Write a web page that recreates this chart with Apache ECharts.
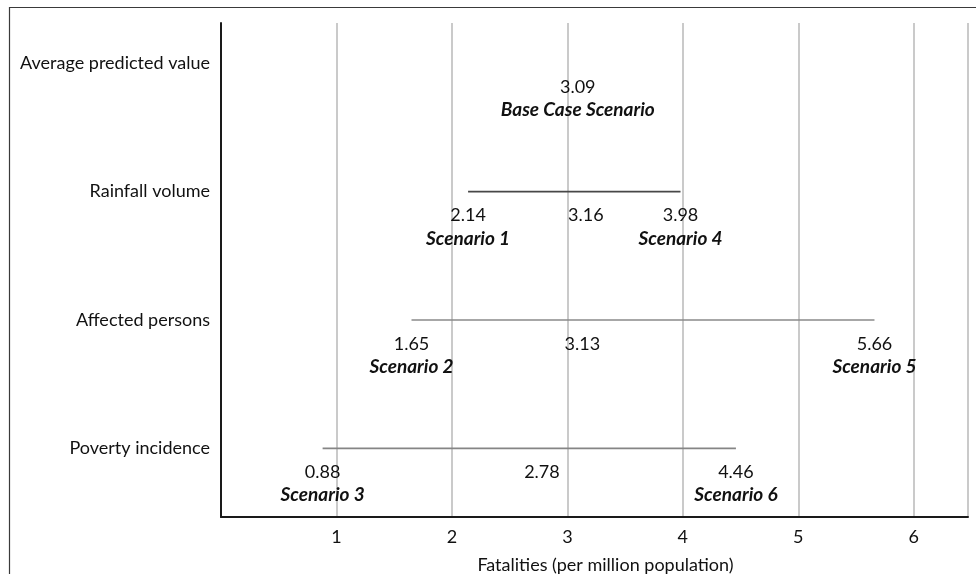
<!DOCTYPE html>
<html><head><meta charset="utf-8">
<script src="https://cdn.jsdelivr.net/npm/echarts@6/dist/echarts.min.js"></script>
<style>html,body{margin:0;padding:0;background:#fff}#c{width:976px;height:574px}</style>
</head><body><div id="c"></div>
<script>
const categories = ['Average predicted value', 'Rainfall volume', 'Affected persons', 'Poverty incidence'];
const lowValues = [null, 2.14, 1.65, 0.88];
const midValues = [3.09, 3.16, 3.13, 2.78];
const highValues = [null, 3.98, 5.66, 4.46];
const lowNames = [null, 'Scenario 1', 'Scenario 2', 'Scenario 3'];
const highNames = [null, 'Scenario 4', 'Scenario 5', 'Scenario 6'];
const baseName = 'Base Case Scenario';
const xTicks = [1, 2, 3, 4, 5, 6];
const xTitle = 'Fatalities (per million population)';

const FONT = 'Lato';
const lineColors = [null, '#474747', '#8a8a8a', '#858585'];

const rich = {
  v: { fontFamily: FONT, fontSize: 18, lineHeight: 23, color: '#111' },
  n: { fontFamily: FONT, fontSize: 19, lineHeight: 23, color: '#111', fontWeight: 'bold', fontStyle: 'italic' }
};

function pointLabel(value, name) {
  return {
    show: true, position: 'bottom', distance: 12, rich: rich,
    formatter: name ? '{v|' + value + '}\n{n|' + name + '}' : '{v|' + value + '}'
  };
}

const series = [];
series.push({
  type: 'line', xAxisIndex: 1, yAxisIndex: 1, symbol: 'circle', symbolSize: 1,
  itemStyle: { color: 'rgba(0,0,0,0)' },
  lineStyle: { width: 0 },
  data: [{ value: [midValues[0], categories[0]], label: pointLabel(midValues[0], baseName) }]
});
for (let i = 1; i < categories.length; i++) {
  series.push({
    type: 'line', xAxisIndex: 1, yAxisIndex: 1, symbol: 'circle', symbolSize: 1,
    itemStyle: { color: 'rgba(0,0,0,0)' },
    lineStyle: { color: lineColors[i], width: 1.6 },
    data: [
      { value: [lowValues[i], categories[i]], label: pointLabel(lowValues[i], lowNames[i]) },
      { value: [midValues[i], categories[i]], label: pointLabel(midValues[i], null) },
      { value: [highValues[i], categories[i]], label: pointLabel(highValues[i], highNames[i]) }
    ]
  });
}

const chart = echarts.init(document.getElementById('c'));
chart.setOption({
  animation: false,
  backgroundColor: '#fff',
  textStyle: { fontFamily: FONT },
  graphic: [{
    type: 'rect', shape: { x: 9.5, y: 7.5, width: 1000, height: 600 },
    style: { fill: 'none', stroke: '#3a3a3a', lineWidth: 1.2 }, silent: true
  }],
  grid: [
    { left: 221, right: 8, top: 23, bottom: 57, containLabel: false, outerBoundsMode: 'none' },
    { left: 221, right: 8, top: -0.9, bottom: 61.5, containLabel: false, outerBoundsMode: 'none' }
  ],
  xAxis: [{
    gridIndex: 0, type: 'value', min: 0, max: 6.47, interval: 1,
    axisLine: { show: true, lineStyle: { color: '#1a1a1a', width: 2 } },
    axisTick: { show: false },
    splitLine: { show: true, lineStyle: { color: '#b8b8b8', width: 1.5 } },
    axisLabel: {
      margin: 11, fontFamily: FONT, fontSize: 18, color: '#111',
      formatter: v => (xTicks.indexOf(v) >= 0 ? String(v) : '')
    },
    name: xTitle, nameLocation: 'middle', nameGap: 39,
    nameTextStyle: { fontFamily: FONT, fontSize: 18, color: '#111', padding: [0, 0, 0, 22] }
  }, {
    gridIndex: 1, type: 'value', min: 0, max: 6.47, show: false
  }],
  yAxis: [{
    gridIndex: 0, type: 'value', min: 0, max: 1,
    axisLine: { show: true, lineStyle: { color: '#1a1a1a', width: 2 } },
    axisTick: { show: false }, axisLabel: { show: false }, splitLine: { show: false }
  }, {
    gridIndex: 1, type: 'category', data: categories, inverse: true,
    axisLine: { show: false }, axisTick: { show: false }, splitLine: { show: false },
    axisLabel: { margin: 11, fontFamily: FONT, fontSize: 18, color: '#111' }
  }],
  series: series
});
</script>
</body></html>
